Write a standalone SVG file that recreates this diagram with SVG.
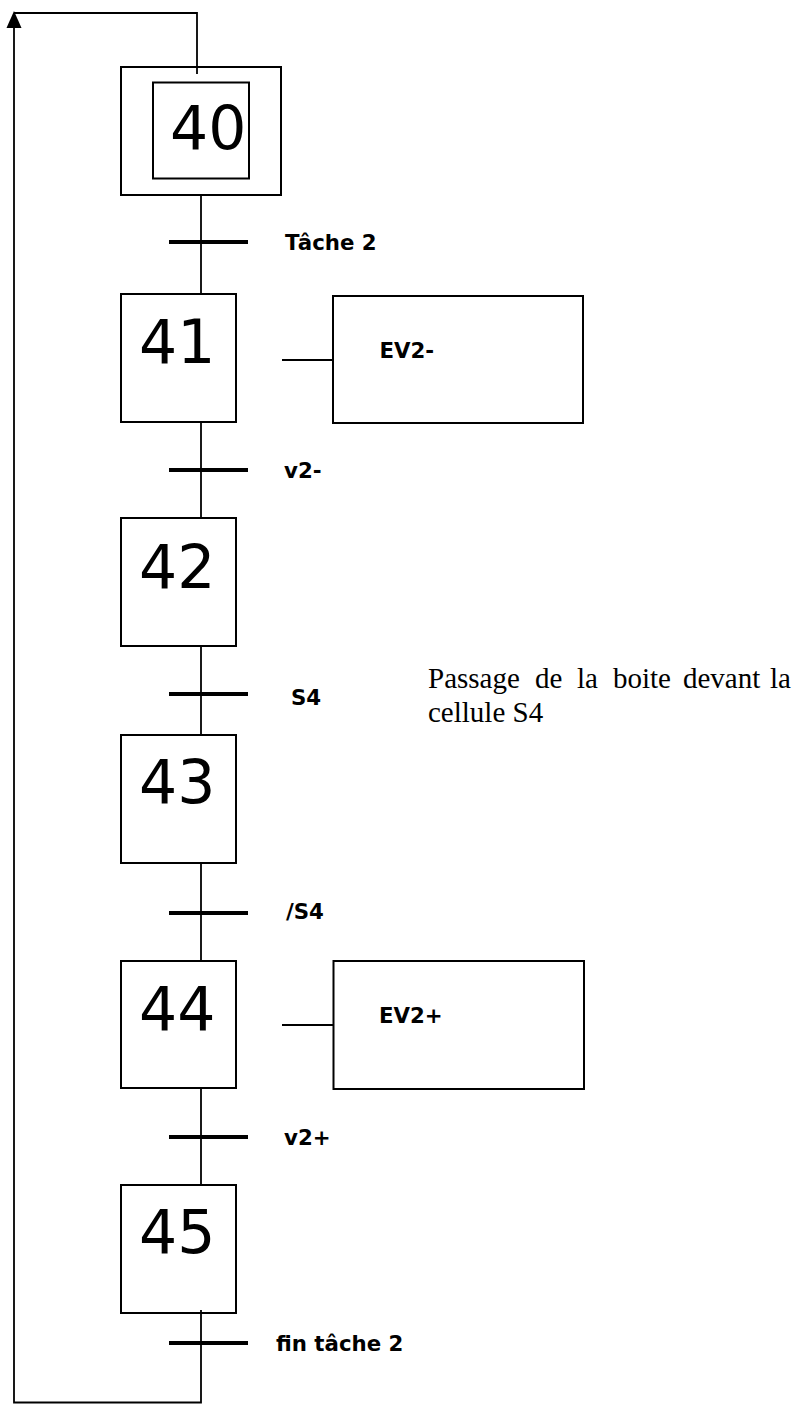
<svg xmlns="http://www.w3.org/2000/svg" width="797" height="1404" viewBox="0 0 797 1404">
<style>
.box{fill:#fff;stroke:#000;stroke-width:2}
.ln{fill:none;stroke:#000;stroke-width:1.8}
.bar{stroke:#000;stroke-width:4}
.num{font-family:"DejaVu Sans",Verdana,sans-serif;font-size:60px;fill:#000}
.lbl{font-family:"DejaVu Sans","Liberation Sans",sans-serif;font-weight:bold;font-size:21.3px;fill:#000}
.note{font-family:"Liberation Serif","Times New Roman",serif;font-size:29px;fill:#000}
</style>
<rect width="797" height="1404" fill="#fff"/>
<g id="connectors">
<polyline class="ln" points="201,1310 201,1402.5 14,1402.5 14,26"/>
<polygon points="14,11 6.5,28 21.5,28" fill="#000"/>
<polyline class="ln" points="14,13 197,13 197,74"/>
<line class="ln" x1="201" y1="195" x2="201" y2="294"/>
<line class="ln" x1="201" y1="422" x2="201" y2="518"/>
<line class="ln" x1="201" y1="646" x2="201" y2="735"/>
<line class="ln" x1="201" y1="863" x2="201" y2="961"/>
<line class="ln" x1="201" y1="1088" x2="201" y2="1185"/>
<line class="ln" x1="282" y1="360" x2="333" y2="360"/>
<line class="ln" x1="282" y1="1025" x2="333" y2="1025"/>
</g>
<g id="transitions">
<line class="bar" x1="169" y1="242" x2="248" y2="242"/>
<text class="lbl" x="285" y="250">Tâche 2</text>
<line class="bar" x1="169" y1="470" x2="248" y2="470"/>
<text class="lbl" x="284" y="478">v2-</text>
<line class="bar" x1="169" y1="694" x2="248" y2="694"/>
<text class="lbl" x="291" y="705">S4</text>
<line class="bar" x1="169" y1="913" x2="248" y2="913"/>
<text class="lbl" x="286" y="919">/S4</text>
<line class="bar" x1="169" y1="1137" x2="248" y2="1137"/>
<text class="lbl" x="284" y="1145">v2+</text>
<line class="bar" x1="169" y1="1343" x2="248" y2="1343"/>
<text class="lbl" x="276" y="1351">fin tâche 2</text>
</g>
<g id="step40">
<rect class="box" x="121" y="67" width="160" height="128"/>
<rect class="box" x="153" y="82.5" width="96" height="96"/>
<line class="ln" x1="197" y1="66" x2="197" y2="74"/>
<text class="num" x="170" y="149">40</text>
</g>
<g id="step41">
<rect class="box" x="121" y="294" width="115" height="128"/>
<text class="num" x="139" y="363">41</text>
</g>
<g id="action41">
<rect class="box" x="333" y="296" width="250" height="127"/>
<text class="lbl" x="379.5" y="358">EV2-</text>
</g>
<g id="step42">
<rect class="box" x="121" y="518" width="115" height="128"/>
<text class="num" x="139" y="588">42</text>
</g>
<g id="step43">
<rect class="box" x="121" y="735" width="115" height="128"/>
<text class="num" x="139" y="803">43</text>
</g>
<g id="step44">
<rect class="box" x="121" y="961" width="115" height="127"/>
<text class="num" x="139" y="1030">44</text>
</g>
<g id="action44">
<rect class="box" x="333.5" y="961" width="250.5" height="128"/>
<text class="lbl" x="379" y="1023">EV2+</text>
</g>
<g id="step45">
<rect class="box" x="121" y="1185" width="115" height="128"/>
<text class="num" x="139" y="1253">45</text>
<line class="ln" x1="201" y1="1310" x2="201" y2="1313"/>
</g>
<g id="note">
<text class="note" y="688"><tspan x="428">Passage</tspan><tspan x="535">de</tspan><tspan x="577">la</tspan><tspan x="613">boite</tspan><tspan x="683">devant</tspan><tspan x="770">la</tspan></text>
<text class="note" x="428" y="722">cellule S4</text>
</g>
</svg>
